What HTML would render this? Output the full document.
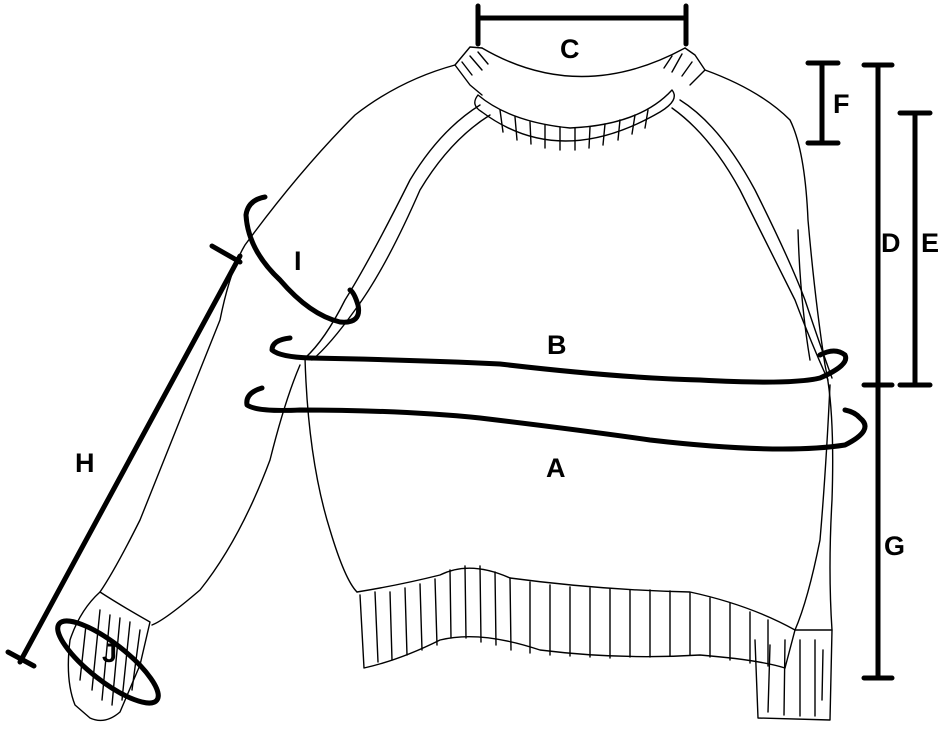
<!DOCTYPE html>
<html><head><style>
html,body{margin:0;padding:0;background:#fff;}
svg{display:block;}
text{font-family:"Liberation Sans",sans-serif;font-weight:bold;font-size:27px;fill:#000;}
</style></head><body>
<svg width="952" height="738" viewBox="0 0 952 738" xmlns="http://www.w3.org/2000/svg">
<g fill="none" stroke="#000" stroke-width="1.4" stroke-linecap="round" stroke-linejoin="round">
<!-- collar -->
<path d="M455 65 L470 47 L482 48"/>
<path d="M482 48 Q580 105 685 48"/>
<path d="M685 48 L695 55 L705 70 L690 85"/>
<path d="M455 65 L470 85 L482 95"/>
<path d="M478 95 Q470 105 482 112 Q560 170 660 112 Q680 100 672 90 Q640 125 570 128 Q510 122 478 95"/>
<path d="M462 62 L472 75 M470 56 L482 70 M478 52 L488 64 M672 56 L664 68 M682 54 L672 72 M692 62 L682 76"/>
<path d="M500 110 L503 132 M515 117 L517 140 M530 122 L531 144 M545 125 L545 148 M560 127 L560 150 M575 128 L575 150 M590 127 L589 148 M605 124 L603 145 M620 120 L618 140 M635 115 L632 134 M648 110 L645 128"/>
<!-- left sleeve -->
<path d="M455 65 Q400 80 355 115 Q300 170 245 245 Q230 270 220 320 Q180 420 140 520 Q115 570 100 592"/>
<path d="M300 365 Q285 400 270 460 Q240 540 200 590 Q165 620 152 625"/>
<path d="M100 592 Q120 605 150 622 L140 665 Q125 700 120 712 Q105 725 90 718 L75 705 Q65 680 70 640 Q80 610 100 592"/>
<path d="M100 610 L92 690 M110 615 L102 700 M120 618 L112 705 M130 622 L122 700 M140 630 L132 690 M86 625 L80 680"/>
<!-- left raglan -->
<path d="M480 105 Q440 130 410 180 Q370 260 345 300 Q325 340 305 358"/>
<path d="M490 115 Q450 140 420 190 Q385 270 355 310 Q330 345 312 360"/>
<!-- body -->
<path d="M305 358 Q308 460 330 530 Q345 580 357 592"/>
<path d="M357 592 Q400 585 440 575 Q470 560 510 578 Q600 590 690 592 Q750 605 795 630"/>
<path d="M360 595 L364 668 Q400 660 440 640 Q480 630 540 650 Q620 660 700 655 Q760 660 785 668"/>
<path d="M375 592 L378 662 M390 592 L392 660 M405 588 L407 655 M420 584 L422 650 M435 579 L437 645 M450 570 L451 638 M465 566 L466 638 M480 566 L481 642 M495 572 L496 645 M510 578 L511 650 M530 582 L530 653 M550 585 L550 655 M570 587 L570 656 M590 588 L590 657 M610 589 L610 658 M630 590 L630 657 M650 590 L650 657 M670 591 L670 656 M690 593 L690 655 M710 598 L710 657 M730 603 L730 660 M750 612 L750 663 M768 620 L768 666"/>
<path d="M795 630 L785 668"/>
<!-- right raglan/body -->
<path d="M672 108 Q710 135 740 190 Q775 260 795 300 Q812 345 828 380"/>
<path d="M680 100 Q720 125 755 190 Q790 260 805 300 Q820 345 832 378"/>
<path d="M830 385 Q826 470 820 540 Q808 600 795 630"/>
<!-- right sleeve -->
<path d="M705 70 Q760 90 790 120 Q805 150 808 220 Q815 300 825 365 Q835 410 832 500 Q828 570 832 630"/>
<path d="M798 230 Q800 300 810 360"/>
<path d="M795 630 L832 630 L830 720 L758 718 L755 640"/>
<path d="M770 645 L768 712 M785 640 L784 715 M800 640 L800 716 M815 640 L815 716 M823 650 L822 700"/>
</g>
<!-- thick measurement marks -->
<g fill="none" stroke="#000" stroke-width="5" stroke-linecap="round" stroke-linejoin="round">
<path d="M478 18 L686 18 M478 6 L478 44 M686 6 L686 44"/>
<path d="M822 63 L822 143 M808 63 L838 63 M808 143 L838 143"/>
<path d="M878 65 L878 678 M864 65 L892 65 M864 385 L892 385 M864 678 L892 678"/>
<path d="M915 113 L915 385 M900 113 L930 113 M900 385 L930 385"/>
<path d="M240 256 L20 662 M212 246 L240 262 M8 652 L34 666"/>
<path d="M265 197 Q248 200 246 215 Q248 250 280 280 Q310 315 340 322 Q362 324 358 305 Q354 292 350 290"/>
<path d="M290 338 Q272 340 272 350 Q280 357 310 358 Q420 360 500 364 Q620 378 700 380 Q790 385 820 378 Q850 365 845 355 Q835 347 820 355"/>
<path d="M262 388 Q245 393 247 405 Q257 412 300 410 Q400 410 480 418 Q580 430 650 440 Q780 455 845 445 Q875 430 860 418 Q855 412 845 410"/>
<ellipse cx="108" cy="662" rx="62" ry="19" transform="rotate(38 108 662)"/>
</g>
<text x="560" y="58">C</text>
<text x="833" y="113">F</text>
<text x="881" y="252">D</text>
<text x="921" y="252">E</text>
<text x="547" y="354">B</text>
<text x="546" y="477">A</text>
<text x="294" y="270" font-size="26">I</text>
<text x="75" y="472">H</text>
<text x="884" y="555">G</text>
<text x="102" y="662" font-size="24">J</text>
</svg>
</body></html>
